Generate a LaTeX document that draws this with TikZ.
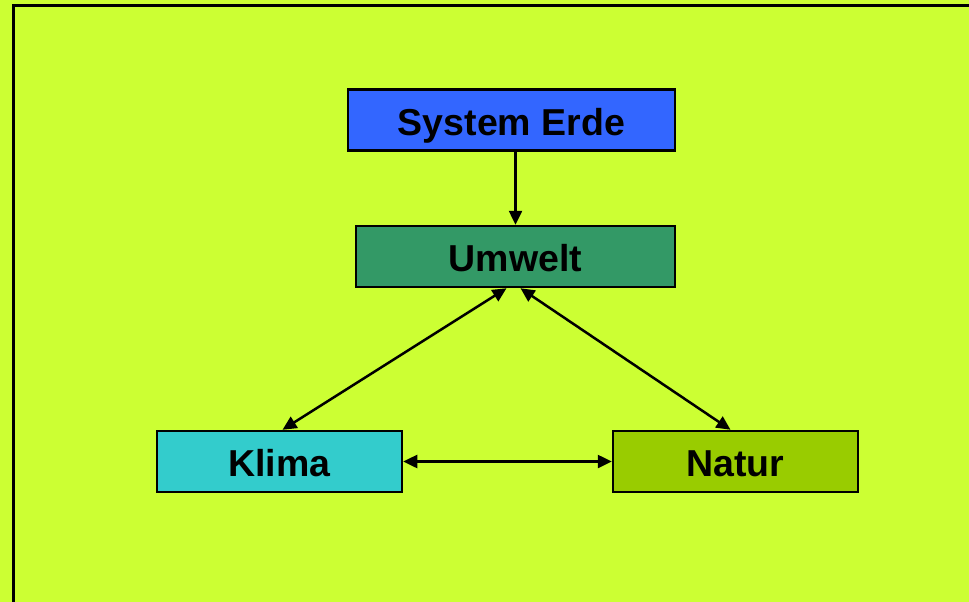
\documentclass[tikz,border=0pt]{standalone}
\usepackage{fontspec}
\setmainfont{Liberation Sans}
\usetikzlibrary{arrows.meta}
\definecolor{bglime}{HTML}{CCFF33}
\definecolor{erdeblue}{HTML}{3366FF}
\definecolor{umweltgreen}{HTML}{339966}
\definecolor{klimacyan}{HTML}{33CCCC}
\definecolor{naturgreen}{HTML}{99CC00}
\tikzset{
  box/.style={draw=black, line width=2.5pt, inner sep=0pt, minimum height=61pt,
    text height=30pt, text depth=0pt,
    font=\fontsize{37.5}{40}\selectfont\bfseries, text=black},
  link/.style={line width=2.5pt, draw=black, >={Triangle[length=14pt,width=13pt]}}
}
\begin{document}
\begin{tikzpicture}[x=1pt,y=-1pt]
\useasboundingbox (0,0) rectangle (969,602);
\clip (0,0) rectangle (969,602);
\fill[bglime] (0,0) rectangle (969,602);
\draw[line width=3pt] (13.5,1000) -- (13.5,5.5) -- (1200,5.5);
\node[box, fill=erdeblue, minimum width=327pt] (erde) at (511.5,120) {System Erde};
\node[box, fill=umweltgreen, minimum width=319pt] (umwelt) at (515.5,256.5) {Umwelt};
\node[box, fill=klimacyan, minimum width=245pt] (klima) at (279.5,461.5) {Klima};
\node[box, fill=naturgreen, minimum width=245pt] (natur) at (735.5,461.5) {Natur};
\draw[link, ->] (erde.south -| umwelt.north) -- (umwelt.north);
\draw[link, <->] ([xshift=-9pt]umwelt.south) -- ([xshift=3pt]klima.north);
\draw[link, <->] ([xshift=5pt]umwelt.south) -- ([xshift=-5pt]natur.north);
\draw[link, <->] (klima.east) -- (natur.west);
\end{tikzpicture}
\end{document}
